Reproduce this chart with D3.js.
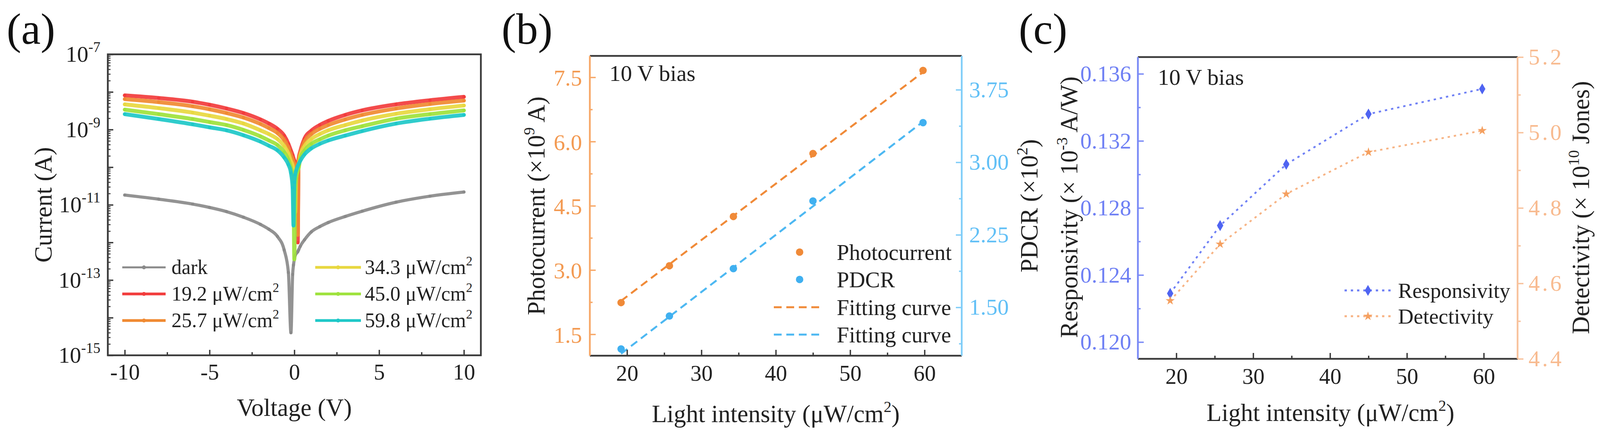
<!DOCTYPE html>
<html><head><meta charset="utf-8">
<script src="https://cdn.jsdelivr.net/npm/d3@7"></script>
<style>
html,body{margin:0;padding:0;background:#fff;}
svg{display:block;}
text{font-family:"Liberation Serif","Times New Roman",serif;}
</style></head><body>
<svg id="fig" width="4101" height="1118"></svg>
<script>
// ================= DATA =================
// Panel (a): I-V curves, current in log10(A)
const voltage = [-10,-8,-6,-5,-4,-3,-2,-1.5,-1,-0.6,-0.35,-0.2,-0.1,-0.05,0,0.05,0.1,0.2,0.25,0.35,0.6,1,1.5,2,3,4,6,8,10];
const logCurrentDark   = [-10.74,-10.85,-10.98,-11.07,-11.18,-11.33,-11.52,-11.65,-11.84,-12.20,-12.80,-14.40,-12.85,-12.60,-12.45,-12.35,-12.30,-12.25,-12.20,-12.10,-11.93,-11.72,-11.58,-11.47,-11.31,-11.17,-10.93,-10.77,-10.66];
const logCurrent192    = [-8.09,-8.16,-8.26,-8.34,-8.44,-8.56,-8.73,-8.84,-8.98,-9.16,-9.38,-9.56,-9.68,-9.76,-9.82,-9.86,-9.92,-12.00,-9.78,-9.58,-9.24,-9.03,-8.88,-8.77,-8.61,-8.49,-8.33,-8.22,-8.13];
const logCurrent257    = [-8.19,-8.27,-8.38,-8.46,-8.56,-8.68,-8.85,-8.96,-9.09,-9.28,-9.49,-9.68,-9.78,-9.85,-9.90,-9.95,-10.05,-11.80,-9.82,-9.63,-9.32,-9.12,-8.98,-8.88,-8.73,-8.61,-8.44,-8.32,-8.23];
const logCurrent343    = [-8.33,-8.43,-8.55,-8.63,-8.72,-8.84,-9.02,-9.12,-9.25,-9.44,-9.64,-9.84,-9.95,-10.10,-10.40,-11.20,-10.30,-10.05,-9.97,-9.70,-9.44,-9.25,-9.12,-9.02,-8.88,-8.76,-8.58,-8.46,-8.36];
const logCurrent450    = [-8.47,-8.59,-8.72,-8.80,-8.88,-9.01,-9.18,-9.29,-9.41,-9.60,-9.80,-10.01,-10.20,-10.50,-12.45,-10.60,-10.30,-10.10,-10.03,-9.77,-9.56,-9.38,-9.26,-9.16,-9.02,-8.91,-8.71,-8.59,-8.49];
const logCurrent598    = [-8.59,-8.72,-8.86,-8.94,-9.02,-9.15,-9.32,-9.43,-9.55,-9.74,-9.93,-10.15,-10.55,-11.55,-10.40,-10.20,-10.10,-9.97,-9.92,-9.83,-9.66,-9.50,-9.38,-9.29,-9.16,-9.04,-8.84,-8.71,-8.61];
const ivLegendLabels = ["dark","19.2","25.7","34.3","45.0","59.8"];
const ivXTicks = [-10,-5,0,5,10];
const ivXMinor = [-7.5,-2.5,2.5,7.5];
const ivYLabelExponents = [-7,-9,-11,-13,-15];

// Panel (b)
const intensity = [19.2,25.7,34.3,45.0,59.8];
const photocurrent = [2.24,3.10,4.25,5.72,7.66];
const pdcr = [1.07,1.41,1.90,2.60,3.41];
const fitIntensity = [19.2,59.8];
const photocurrentFit = [2.28,7.62];
const pdcrFit = [1.02,3.42];
const bXTicks = [20,30,40,50,60];
const bXMinor = [25,35,45,55];
const bLeftTicks = [1.5,3.0,4.5,6.0,7.5];
const bLeftMinor = [2.25,3.75,5.25,6.75];
const bRightTicks = [1.50,2.25,3.00,3.75];
const bRightMinor = [1.125,1.875,2.625,3.375];

// Panel (c)
const responsivity = [0.1229,0.12695,0.1306,0.1336,0.1351];
const detectivity = [4.554,4.704,4.837,4.948,5.005];
const cLeftTicks = [0.120,0.124,0.128,0.132,0.136];
const cLeftMinor = [0.122,0.126,0.130,0.134];
const cRightTicks = [4.4,4.6,4.8,5.0,5.2];
const cRightMinor = [4.5,4.7,4.9,5.1];

// ================= DRAW =================
const FONT = '"Liberation Serif","Times New Roman",serif';
const INK = "#222";
const svg = d3.select("#fig");

function styleAxis(g, color, fs, lw){
  g.attr("font-family", FONT);
  g.select(".domain").remove();
  g.selectAll(".tick line").attr("stroke", color).attr("stroke-width", lw || 3.5);
  g.selectAll(".tick text").attr("fill", color).attr("font-size", fs).attr("font-family", FONT);
}
function addText(parent, x, y, parts, opts){
  const t = parent.append("text").attr("x", x).attr("y", y)
    .attr("font-size", opts.fs).attr("fill", opts.color || INK)
    .attr("text-anchor", opts.anchor || "start");
  if (opts.rotate) t.attr("transform", `rotate(${opts.rotate},${x},${y})`);
  if (opts.spacing) t.attr("letter-spacing", opts.spacing);
  parts.forEach(p => {
    if (typeof p === "string") t.append("tspan").text(p);
    else t.append("tspan").attr("font-size", p.fs).attr("dy", p.dy).text(p.t);
  });
  return t;
}
function hline(g,x1,x2,y,color,w){ g.append("line").attr("x1",x1).attr("x2",x2).attr("y1",y).attr("y2",y).attr("stroke",color).attr("stroke-width",w); }
function vline(g,x,y1,y2,color,w){ g.append("line").attr("x1",x).attr("x2",x).attr("y1",y1).attr("y2",y2).attr("stroke",color).attr("stroke-width",w); }

// panel labels
addText(svg, 17, 112, ["(a)"], {fs:112, color:"#111"});
addText(svg, 1284, 112, ["(b)"], {fs:112, color:"#111"});
addText(svg, 2608, 112, ["(c)"], {fs:112, color:"#111"});

// ---------- Panel (a) ----------
{
  const A = {l:276, r:1231, t:139, b:909};
  const g = svg.append("g");
  const x = d3.scaleLinear().domain([-11,11]).range([A.l, A.r]);
  const y = d3.scaleLog().domain([1e-15,1e-7]).range([A.b, A.t]);
  const frame = "#3a3a3a";

  const series = [
    {vals: logCurrentDark, color:"#8a8a8a", w:8},
    {vals: logCurrent192, color:"#f23c3c", w:10},
    {vals: logCurrent257, color:"#f08a32", w:10},
    {vals: logCurrent343, color:"#e8d840", w:10},
    {vals: logCurrent450, color:"#9ee23c", w:10},
    {vals: logCurrent598, color:"#1ec8c8", w:10}
  ];
  const line = d3.line().x(d => x(d[0])).y(d => y(d[1])).curve(d3.curveMonotoneX);
  svg.append("clipPath").attr("id","clipA").append("rect")
    .attr("x",A.l).attr("y",A.t).attr("width",A.r-A.l).attr("height",A.b-A.t);
  const cg = g.append("g").attr("clip-path","url(#clipA)");
  series.forEach(s => {
    const pts = voltage.map((v,i) => [v, Math.pow(10, s.vals[i])]);
    cg.append("path").attr("d", line(pts)).attr("fill","none")
      .attr("stroke", s.color).attr("stroke-width", s.w)
      .attr("stroke-linejoin","round").attr("stroke-linecap","round").attr("stroke-opacity",0.92);
    cg.selectAll(null).data(pts).enter().append("circle")
      .attr("cx", d => x(d[0])).attr("cy", d => y(d[1])).attr("r", 4)
      .attr("fill", s.color);
  });

  // axes
  const gx = g.append("g").attr("transform",`translate(0,${A.b})`)
    .call(d3.axisBottom(x).tickValues(ivXTicks).tickSizeInner(-14).tickSizeOuter(0).tickPadding(22).tickFormat(d => String(d)));
  styleAxis(gx, INK, 57);
  gx.selectAll(".tick line").attr("stroke", frame);
  const gxm = g.append("g").attr("transform",`translate(0,${A.b})`)
    .call(d3.axisBottom(x).tickValues(ivXMinor).tickSizeInner(-8).tickSizeOuter(0).tickFormat(""));
  styleAxis(gxm, frame, 10);

  const decades = d3.range(-15,-6).map(e => Math.pow(10,e));
  const minors = [];
  for (let e=-15; e<-7; e++) for (let m=2; m<10; m++) minors.push(m*Math.pow(10,e));
  const gy = g.append("g").attr("transform",`translate(${A.l},0)`)
    .call(d3.axisLeft(y).tickValues(decades).tickSizeInner(-14).tickSizeOuter(0).tickFormat(""));
  styleAxis(gy, frame, 10);
  const gym = g.append("g").attr("transform",`translate(${A.l},0)`)
    .call(d3.axisLeft(y).tickValues(minors).tickSizeInner(-7).tickSizeOuter(0).tickFormat(""));
  styleAxis(gym, frame, 10, 2.5);
  ivYLabelExponents.forEach(e => {
    addText(g, 257, y(Math.pow(10,e)) + 19, ["10", {t:String(e), fs:37, dy:-25}], {fs:58, anchor:"end"});
  });

  g.append("rect").attr("x",A.l).attr("y",A.t).attr("width",A.r-A.l).attr("height",A.b-A.t)
    .attr("fill","none").attr("stroke",frame).attr("stroke-width",4.5);

  addText(g, (A.l+A.r)/2, 1064, ["Voltage (V)"], {fs:63, anchor:"middle"});
  addText(g, 132, (A.t+A.b)/2, ["Current (A)"], {fs:63, anchor:"middle", rotate:-90});

  // legend
  const rows = [684,752,820];
  const cols = [{x1:313,x2:424,tx:439},{x1:807,x2:924,tx:934}];
  series.forEach((s,i) => {
    const c = cols[Math.floor(i/3)], ry = rows[i%3];
    hline(g, c.x1, c.x2, ry, s.color, i===0 ? 5 : 7);
    g.append("circle").attr("cx",(c.x1+c.x2)/2).attr("cy",ry).attr("r",5).attr("fill",s.color);
    const lab = ivLegendLabels[i];
    if (i===0) addText(g, c.tx, ry+17, [lab], {fs:52});
    else addText(g, c.tx, ry+17, [lab+" \u03bcW/cm", {t:"2", fs:33, dy:-22}], {fs:52});
  });
}

// ---------- Panel (b) ----------
{
  const B = {l:1510, r:2462, t:143, b:910};
  const g = svg.append("g");
  const x = d3.scaleLinear().domain([15,65]).range([B.l,B.r]);
  const yL = d3.scaleLinear().domain([1.0,8.0]).range([B.b,B.t]);
  const yR = d3.scaleLinear().domain([1.0,4.1]).range([B.b,B.t]);
  const orange = "#f08a38", orangeAx = "#f7a868", orangeTxt = "#f39a52";
  const blue = "#40b0f0", blueAx = "#80cdf8", blueTxt = "#62c0f6";
  const frame = "#3a3a3a";

  g.append("path").attr("d", d3.line().x(d=>x(d[0])).y(d=>yL(d[1]))(fitIntensity.map((v,i)=>[v,photocurrentFit[i]])))
    .attr("stroke",orange).attr("stroke-width",5).attr("stroke-dasharray","20,12").attr("fill","none");
  g.append("path").attr("d", d3.line().x(d=>x(d[0])).y(d=>yR(d[1]))(fitIntensity.map((v,i)=>[v,pdcrFit[i]])))
    .attr("stroke","#4db8f2").attr("stroke-width",5).attr("stroke-dasharray","20,12").attr("fill","none");
  g.selectAll(null).data(intensity).enter().append("circle")
    .attr("cx",(d)=>x(d)).attr("cy",(d,i)=>yL(photocurrent[i])).attr("r",9.5).attr("fill",orange);
  g.selectAll(null).data(intensity).enter().append("circle")
    .attr("cx",(d)=>x(d)).attr("cy",(d,i)=>yR(pdcr[i])).attr("r",9.5).attr("fill",blue);

  const gx = g.append("g").attr("transform",`translate(0,${B.b})`)
    .call(d3.axisBottom(x).tickValues(bXTicks).tickSizeInner(-15).tickSizeOuter(0).tickPadding(24));
  styleAxis(gx, INK, 57); gx.selectAll(".tick line").attr("stroke",frame);
  const gxm = g.append("g").attr("transform",`translate(0,${B.b})`)
    .call(d3.axisBottom(x).tickValues(bXMinor).tickSizeInner(-8).tickSizeOuter(0).tickFormat(""));
  styleAxis(gxm, frame, 10);

  const gl = g.append("g").attr("transform",`translate(${B.l},0)`)
    .call(d3.axisLeft(yL).tickValues(bLeftTicks).tickSizeInner(-15).tickSizeOuter(0).tickPadding(20).tickFormat(d3.format(".1f")));
  styleAxis(gl, orangeTxt, 58); gl.selectAll(".tick line").attr("stroke",orangeAx);
  gl.selectAll(".tick text").attr("dy","0.36em");
  const glm = g.append("g").attr("transform",`translate(${B.l},0)`)
    .call(d3.axisLeft(yL).tickValues(bLeftMinor).tickSizeInner(-7).tickSizeOuter(0).tickFormat(""));
  styleAxis(glm, orangeAx, 10);

  const gr = g.append("g").attr("transform",`translate(${B.r},0)`)
    .call(d3.axisRight(yR).tickValues(bRightTicks).tickSizeInner(-15).tickSizeOuter(0).tickPadding(19).tickFormat(d3.format(".2f")));
  styleAxis(gr, blueTxt, 58); gr.selectAll(".tick line").attr("stroke",blueAx);
  const grm = g.append("g").attr("transform",`translate(${B.r},0)`)
    .call(d3.axisRight(yR).tickValues(bRightMinor).tickSizeInner(-7).tickSizeOuter(0).tickFormat(""));
  styleAxis(grm, blueAx, 10);

  hline(g, B.l, B.r, B.t, frame, 4.5);
  hline(g, B.l, B.r, B.b, frame, 4.5);
  vline(g, B.l, B.t, B.b, orangeAx, 4.5);
  vline(g, B.r, B.t, B.b, blueAx, 4.5);

  addText(g, 1560, 207, ["10 V bias"], {fs:58});
  addText(g, (B.l+B.r)/2, 1080, ["Light intensity (\u03bcW/cm", {t:"2",fs:40,dy:-26}, {t:")",fs:63,dy:26}], {fs:63, anchor:"middle"});
  addText(g, 1394, (B.t+B.b)/2, ["Photocurrent (\u00d710", {t:"9",fs:40,dy:-26}, {t:" A)",fs:63,dy:26}], {fs:63, anchor:"middle", rotate:-90});
  addText(g, 2656, (B.t+B.b)/2, ["PDCR (\u00d710", {t:"2",fs:40,dy:-26}, {t:")",fs:63,dy:26}], {fs:63, anchor:"middle", rotate:-90});

  // legend
  g.append("circle").attr("cx",2047).attr("cy",645).attr("r",9.5).attr("fill",orange);
  g.append("circle").attr("cx",2047).attr("cy",715).attr("r",9.5).attr("fill",blue);
  g.append("line").attr("x1",1981).attr("x2",2099).attr("y1",786).attr("y2",786).attr("stroke",orange).attr("stroke-width",5).attr("stroke-dasharray","20,12");
  g.append("line").attr("x1",1981).attr("x2",2099).attr("y1",856).attr("y2",856).attr("stroke","#4db8f2").attr("stroke-width",5).attr("stroke-dasharray","20,12");
  addText(g, 2142, 665, ["Photocurrent"], {fs:57});
  addText(g, 2142, 735, ["PDCR"], {fs:57});
  addText(g, 2142, 806, ["Fitting curve"], {fs:57});
  addText(g, 2142, 876, ["Fitting curve"], {fs:57});
}

// ---------- Panel (c) ----------
{
  const C = {l:2913, r:3885, t:146, b:918};
  const g = svg.append("g");
  const x = d3.scaleLinear().domain([15,64.4]).range([C.l,C.r]);
  const yL = d3.scaleLinear().domain([0.119,0.137]).range([C.b,C.t]);
  const yR = d3.scaleLinear().domain([4.4,5.2]).range([C.b,C.t]);
  const blue = "#4f64f2", blueLine = "#6f80f5", blueAx = "#7a8af6", blueTxt = "#6f80f4";
  const orange = "#f5a060", orangeLine = "#f7b485", orangeAx = "#f8c29c", orangeTxt = "#f8bb90";
  const frame = "#3a3a3a";

  const lineR = d3.line().x((d,i)=>x(intensity[i])).y(d=>yL(d));
  const lineD = d3.line().x((d,i)=>x(intensity[i])).y(d=>yR(d));
  g.append("path").attr("d",lineR(responsivity)).attr("fill","none").attr("stroke",blueLine).attr("stroke-width",4.5).attr("stroke-dasharray","6,10");
  g.append("path").attr("d",lineD(detectivity)).attr("fill","none").attr("stroke",orangeLine).attr("stroke-width",4.5).attr("stroke-dasharray","6,10");
  const diamond = d3.symbol().type(d3.symbolDiamond).size(230);
  const star = d3.symbol().type(d3.symbolStar).size(170);
  g.selectAll(null).data(responsivity).enter().append("path").attr("d",diamond)
    .attr("transform",(d,i)=>`translate(${x(intensity[i])},${yL(d)})`).attr("fill",blue);
  g.selectAll(null).data(detectivity).enter().append("path").attr("d",star)
    .attr("transform",(d,i)=>`translate(${x(intensity[i])},${yR(d)})`).attr("fill",orange);

  const gx = g.append("g").attr("transform",`translate(0,${C.b})`)
    .call(d3.axisBottom(x).tickValues(bXTicks).tickSizeInner(-15).tickSizeOuter(0).tickPadding(24));
  styleAxis(gx, INK, 57); gx.selectAll(".tick line").attr("stroke",frame);
  const gxm = g.append("g").attr("transform",`translate(0,${C.b})`)
    .call(d3.axisBottom(x).tickValues(bXMinor).tickSizeInner(-8).tickSizeOuter(0).tickFormat(""));
  styleAxis(gxm, frame, 10);

  const gl = g.append("g").attr("transform",`translate(${C.l},0)`)
    .call(d3.axisLeft(yL).tickValues(cLeftTicks).tickSizeInner(-15).tickSizeOuter(0).tickPadding(17).tickFormat(d3.format(".3f")));
  styleAxis(gl, blueTxt, 58); gl.selectAll(".tick line").attr("stroke",blueAx);
  const glm = g.append("g").attr("transform",`translate(${C.l},0)`)
    .call(d3.axisLeft(yL).tickValues(cLeftMinor).tickSizeInner(-7).tickSizeOuter(0).tickFormat(""));
  styleAxis(glm, blueAx, 10);

  const gr = g.append("g").attr("transform",`translate(${C.r},0)`)
    .call(d3.axisRight(yR).tickValues(cRightTicks).tickSizeInner(15).tickSizeOuter(0).tickPadding(13).tickFormat(d3.format(".1f")));
  styleAxis(gr, orangeTxt, 58); gr.selectAll(".tick line").attr("stroke",orangeAx);
  gr.selectAll(".tick text").attr("letter-spacing", 6);
  const grm = g.append("g").attr("transform",`translate(${C.r},0)`)
    .call(d3.axisRight(yR).tickValues(cRightMinor).tickSizeInner(8).tickSizeOuter(0).tickFormat(""));
  styleAxis(grm, orangeAx, 10);

  hline(g, C.l, C.r, C.t, frame, 4.5);
  hline(g, C.l, C.r, C.b, frame, 4.5);
  vline(g, C.l, C.t, C.b, blueAx, 4.5);
  vline(g, C.r, C.t, C.b, orangeAx, 4.5);

  addText(g, 2964, 217, ["10 V bias"], {fs:58});
  addText(g, 3406, 1077, ["Light intensity (\u03bcW/cm", {t:"2",fs:40,dy:-26}, {t:")",fs:63,dy:26}], {fs:63, anchor:"middle"});
  addText(g, 2758, 530, ["Responsivity (\u00d7 10", {t:"-3",fs:40,dy:-26}, {t:" A/W)",fs:63,dy:26}], {fs:63, anchor:"middle", rotate:-90});
  addText(g, 4068, 531, ["Detectivity (\u00d7 10", {t:"10",fs:40,dy:-26}, {t:" Jones)",fs:63,dy:26}], {fs:63, anchor:"middle", rotate:-90});

  // legend
  g.append("line").attr("x1",3442).attr("x2",3565).attr("y1",743).attr("y2",743).attr("stroke",blueLine).attr("stroke-width",5).attr("stroke-dasharray","6,10");
  g.append("line").attr("x1",3442).attr("x2",3565).attr("y1",809).attr("y2",809).attr("stroke",orangeLine).attr("stroke-width",5).attr("stroke-dasharray","6,10");
  g.append("path").attr("d",diamond).attr("transform","translate(3502,743)").attr("fill",blue);
  g.append("path").attr("d",star).attr("transform","translate(3502,809)").attr("fill",orange);
  addText(g, 3579, 762, ["Responsivity"], {fs:55});
  addText(g, 3579, 828, ["Detectivity"], {fs:55});
}
</script>
</body></html>
